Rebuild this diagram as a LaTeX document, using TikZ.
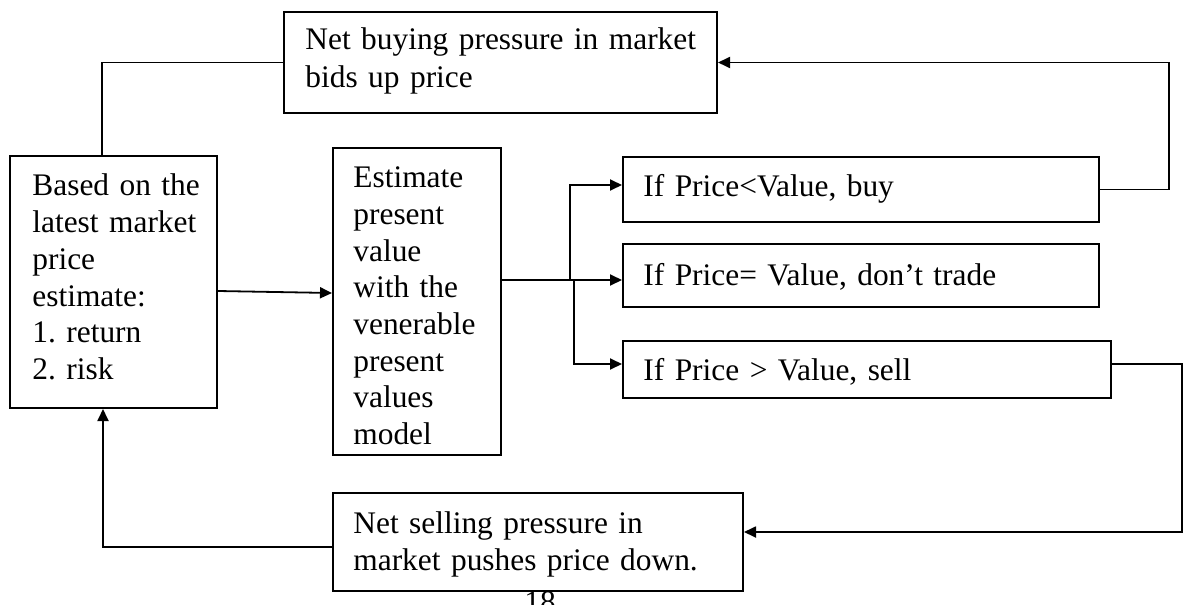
\documentclass[tikz,border=0pt]{standalone}
\usepackage{fontspec}
\usetikzlibrary{arrows.meta,fit,calc}
\newfontfamily\boxfont{Liberation Serif}
\frenchspacing
\begin{document}
\begin{tikzpicture}[x=0.5pt,y=-0.5pt,
  box/.style={draw, line width=1pt, inner sep=0pt},
  txt/.style={anchor=base west, inner sep=0pt, align=left, text width=300pt,
    font={\fontsize{15.7}{18.4}\boxfont}},
  link/.style={line width=0.9pt},
  arr/.style={link, -{Triangle[length=6pt,width=5.5pt]}}]
\useasboundingbox (0,0) rectangle (1186,604);

% boxes
\node[box, fit={(284,12)(717,113)}]  (NB) {};
\node[box, fit={(10,156)(217,408)}]  (L)  {};
\node[box, fit={(333,148)(501,455)}] (E)  {};
\node[box, fit={(623,157)(1099,222)}] (B) {};
\node[box, fit={(623,244)(1099,307)}] (D) {};
\node[box, fit={(623,341)(1111,398)}] (S) {};
\node[box, fit={(333,493)(743,591)}] (NS) {};

% texts
\node[txt, font={\fontsize{15.7}{19.2}\boxfont}] (NBt) at (305,49.3)
  {Net buying pressure in market\\bids up price};
\node[txt] (Lt) at (32,195.7)
  {Based on the\\latest market\\price\\estimate:\\1. return\\2. risk};
\node[txt, font={\fontsize{15.7}{18.3}\boxfont}] (Et) at (353,188)
  {Estimate\\present\\value\\with the\\venerable\\present\\values\\model};
\node[txt] (Bt) at (643,197) {If Price<Value, buy};
\node[txt] (Dt) at (643,285) {If Price= Value, don’t trade};
\node[txt] (St) at (643,380) {If Price > Value, sell};
\node[txt, font={\fontsize{15.7}{18.5}\boxfont}] (NSt) at (353,533)
  {Net selling pressure in\\market pushes price down.};
\node[anchor=base, inner sep=0pt, font={\fontsize{15.7}{18}\boxfont}] (pg) at (540,612) {18};

% connectors
\draw[link] ([xshift=-5.75pt]L.north) |- (NB.west);
\draw[arr] (B.east) -- ++(34.5pt,0) |- (NB.east);
\draw[arr] ([yshift=2.75pt]S.east) -- ++(35pt,0) |- ([yshift=5pt]NS.east);
\draw[arr] ([yshift=-2.5pt]NS.west) -| ([xshift=-5.25pt]L.south);
\draw[arr] ([yshift=-4.5pt]L.east) -- ([yshift=4.25pt]E.west);

\coordinate (j) at ([yshift=10.75pt]E.east);
\path (j) ++(34pt,0) coordinate (ju) ++(2pt,0) coordinate (jd);
\draw[arr] (j) -- (j -| D.west);
\draw[arr] (ju) |- ([yshift=2.25pt]B.west);
\draw[arr] (jd) |- ([yshift=2.75pt]S.west);
\end{tikzpicture}
\end{document}
